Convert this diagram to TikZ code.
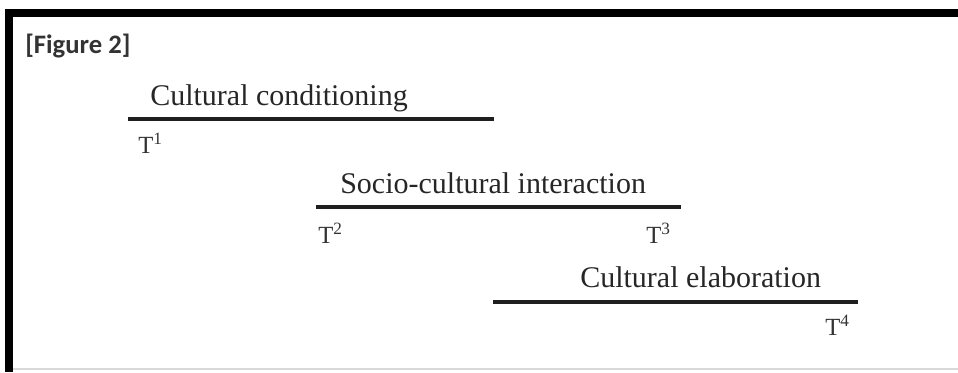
\documentclass[tikz,border=0pt]{standalone}
\usepackage{fontspec}
\setmainfont{Liberation Serif}
\newfontfamily\labelfont{Carlito}
\begin{document}
\begin{tikzpicture}[x=0.75pt,y=-0.75pt,
  serif/.style={inner sep=0pt,anchor=base west,text=black!85,font=\fontsize{22.5}{26}\selectfont},
  tlabel/.style={inner sep=0pt,anchor=base west,text=black!80,font=\fontsize{18.5}{22}\selectfont},
  bar/.style={line width=3pt,black!88},
  frame/.style={fill=black}]
\useasboundingbox (0,0) rectangle (958,372);
\fill[white] (0,0) rectangle (958,372);
% frame
\fill[frame] (5,9) rectangle (958,17);
\fill[frame] (5,9) rectangle (13,372);
\draw[black!15,line width=1pt] (13,369) -- (958,369);
% heading
\node[inner sep=0pt,anchor=base west,text=black!80,font=\labelfont\bfseries\fontsize{20}{24}\selectfont] (fig) at (25,53) {[Figure 2]};
% phase 1
\node[serif] (cc) at (150,105) {Cultural conditioning};
\coordinate (a1) at (128,119);
\coordinate (b1) at (494,119);
\draw[bar] (a1) -- (b1);
\node[tlabel] (t1) at (138,153) {T\textsuperscript{1}};
% phase 2
\node[serif] (sci) at (340,193) {Socio-cultural interaction};
\coordinate (a2) at (316,207);
\coordinate (b2) at (681,207);
\draw[bar] (a2) -- (b2);
\node[tlabel] (t2) at (318,243) {T\textsuperscript{2}};
\node[tlabel] (t3) at (646,243) {T\textsuperscript{3}};
% phase 3
\node[serif] (ce) at (580,287) {Cultural elaboration};
\coordinate (a3) at (493,302);
\coordinate (b3) at (858,302);
\draw[bar] (a3) -- (b3);
\node[tlabel] (t4) at (825,335) {T\textsuperscript{4}};
\end{tikzpicture}
\end{document}
